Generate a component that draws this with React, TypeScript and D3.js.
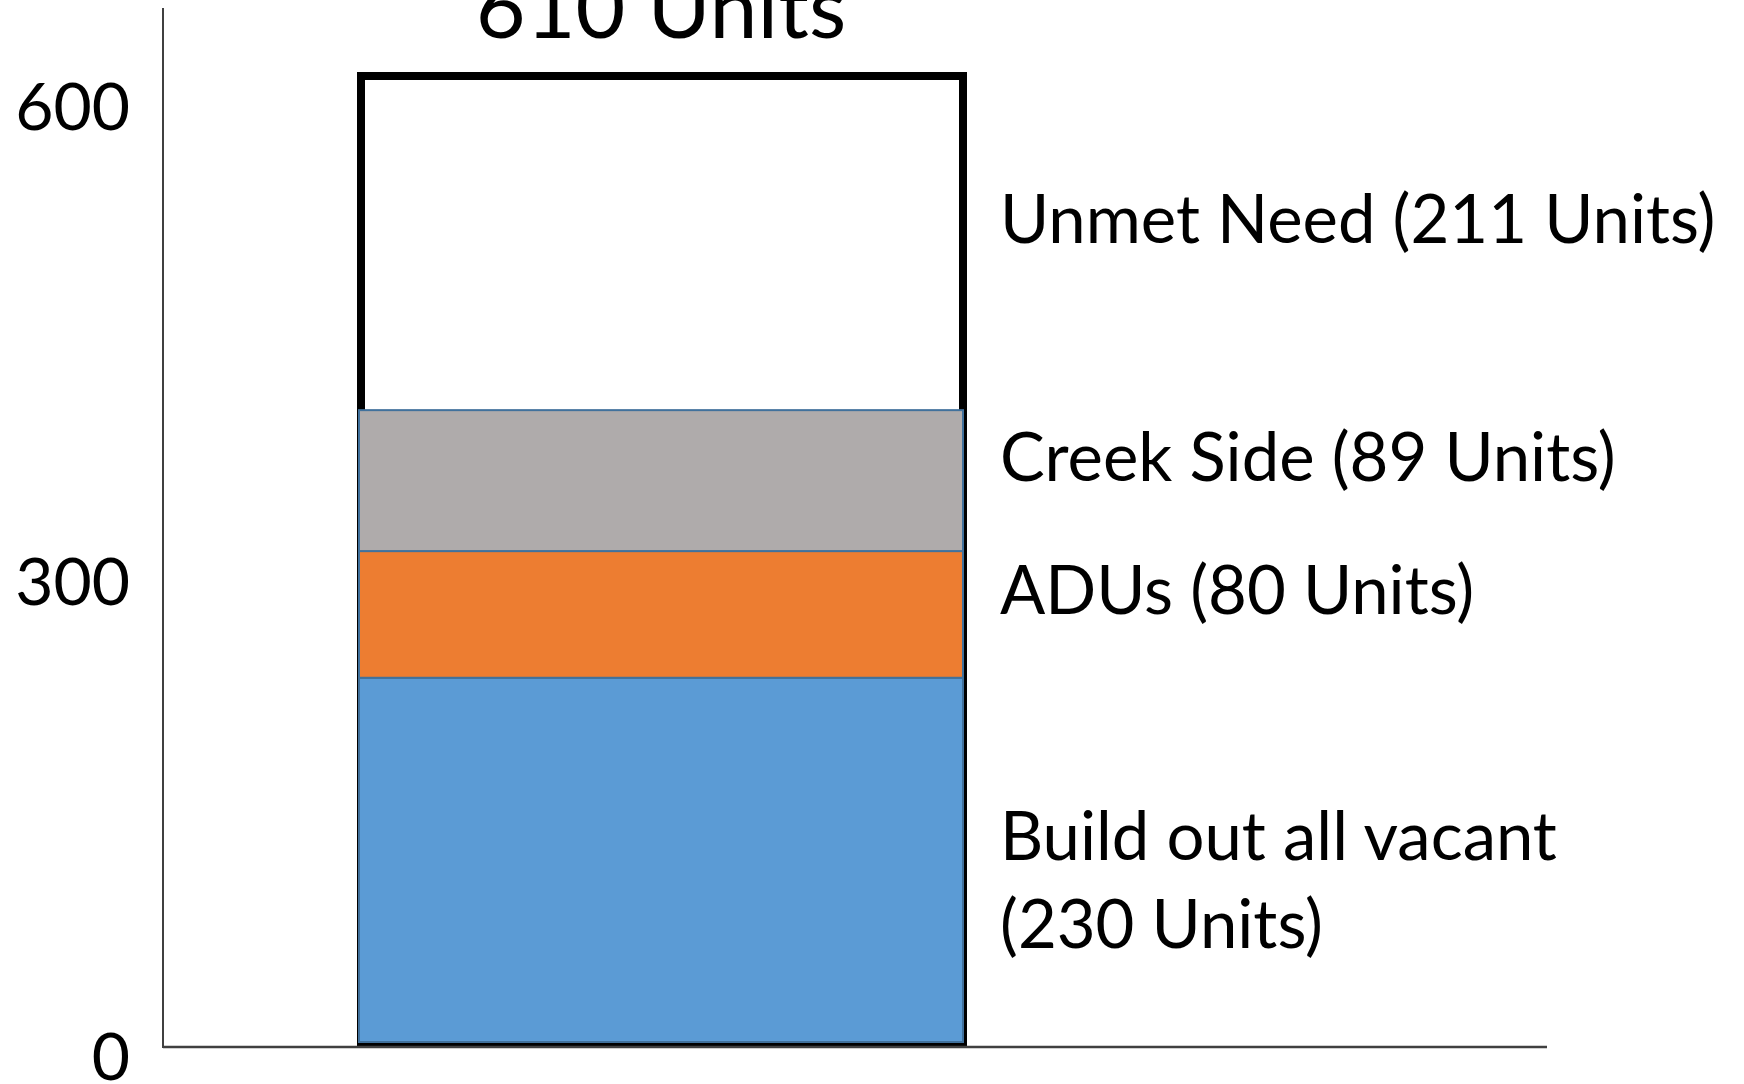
import React, { useEffect, useRef } from 'react';
import * as d3 from 'd3';

// Stacked housing-capacity bar, bottom to top
const segmentNames = ['Build out all vacant', 'ADUs', 'Creek Side', 'Unmet Need'];
const segmentUnits = [230, 80, 89, 211];
const segmentLines = [['Build out all vacant', '(230 Units)'], ['ADUs (80 Units)'], ['Creek Side (89 Units)'], ['Unmet Need (211 Units)']];
const totalLabel = '610 Units';
const yTicks = [0, 300, 600];

const WIDTH = 1744;
const HEIGHT = 1084;

const App: React.FC = () => {
  const svgRef = useRef<SVGSVGElement>(null);

  useEffect(() => {
    document.body.style.margin = '0';
    if (!svgRef.current) return;

    const svg = d3.select(svgRef.current);
    svg.selectAll('*').remove();

    const font = 'Lato, "Open Sans", sans-serif';
    const total = d3.sum(segmentUnits);

    const y = d3.scaleLinear()
      .domain([0, total])
      .range([1042, 76]);

    // single category band, placed where the bar sits on the axis
    const x = d3.scaleBand<string>()
      .domain(['units'])
      .range([359, 963])
      .padding(0);

    const color = d3.scaleOrdinal<string, string>()
      .domain(segmentNames)
      .range(['#5B9BD5', '#ED7D31', '#AFABAB', '#FFFFFF']);

    // stacked positions
    const stacked = segmentUnits.map((v, i) => {
      const y0 = d3.sum(segmentUnits.slice(0, i));
      return { name: segmentNames[i], lines: segmentLines[i], y0, y1: y0 + v };
    });

    const bx = x('units') as number;
    const bw = x.bandwidth();

    // outline of the whole requirement
    svg.append('rect')
      .attr('x', bx + 2)
      .attr('y', y(total))
      .attr('width', bw - 2)
      .attr('height', y(0) - y(total))
      .attr('fill', '#ffffff')
      .attr('stroke', '#000000')
      .attr('stroke-width', 8);

    // filled segments (unmet need stays as the white outline)
    svg.selectAll('rect.seg')
      .data(stacked.filter(d => d.name !== 'Unmet Need'))
      .enter()
      .append('rect')
      .classed('seg', true)
      .attr('x', bx)
      .attr('y', d => y(d.y1))
      .attr('width', bw)
      .attr('height', d => y(d.y0) - y(d.y1))
      .attr('fill', d => color(d.name))
      .attr('stroke', '#41719C')
      .attr('stroke-width', 2);

    // axes lines
    svg.append('line')
      .attr('x1', 163).attr('x2', 163)
      .attr('y1', 8).attr('y2', 1048)
      .attr('stroke', '#404040')
      .attr('stroke-width', 2);

    svg.append('line')
      .attr('x1', 163).attr('x2', 1547)
      .attr('y1', 1047).attr('y2', 1047)
      .attr('stroke', '#404040')
      .attr('stroke-width', 2.5);

    // tick labels
    svg.selectAll('text.tick')
      .data(yTicks)
      .enter()
      .append('text')
      .classed('tick', true)
      .attr('x', 130)
      .attr('y', d => y(d) + 38)
      .attr('text-anchor', 'end')
      .attr('font-family', font)
      .attr('font-size', 66)
      .attr('fill', '#000')
      .text(d => d);

    // total label above the bar
    svg.append('text')
      .attr('x', bx + bw / 2)
      .attr('y', y(total) - 38)
      .attr('text-anchor', 'middle')
      .attr('font-family', font)
      .attr('font-size', 86)
      .attr('fill', '#000')
      .text(totalLabel);

    // segment labels to the right
    const labels = svg.selectAll('text.seg-label')
      .data(stacked)
      .enter()
      .append('text')
      .classed('seg-label', true)
      .attr('x', bx + bw + 37)
      .attr('y', d => y((d.y0 + d.y1) / 2))
      .attr('font-family', font)
      .attr('font-size', 67)
      .attr('fill', '#000');

    labels.selectAll('tspan')
      .data(d => d.lines)
      .enter()
      .append('tspan')
      .attr('x', bx + bw + 37)
      .attr('dy', (_, i) => (i === 0 ? 0 : 88))
      .text(d => d);
  }, []);

  return <svg ref={svgRef} width={WIDTH} height={HEIGHT} style={{ display: 'block', background: '#fff' }} />;
};

export default App;
